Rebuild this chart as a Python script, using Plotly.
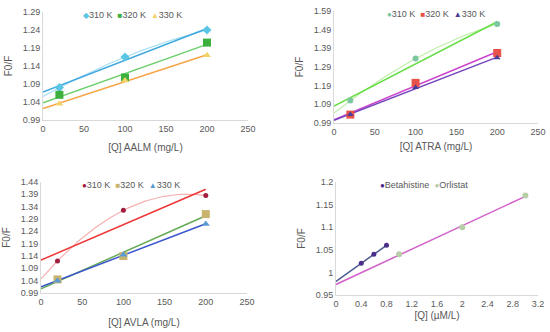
import numpy as np
import plotly.graph_objects as go

# ---------------- data ----------------
conc = [20, 100, 200]
aalm_310 = [1.08, 1.165, 1.24]
aalm_320 = [1.06, 1.108, 1.205]
aalm_330 = [1.035, 1.10, 1.17]

atra_310 = [1.11, 1.335, 1.52]
atra_320 = [1.035, 1.205, 1.365]
atra_330 = [1.035, 1.18, 1.34]

avla_310 = [1.12, 1.325, 1.385]
avla_320 = [1.045, 1.14, 1.31]
avla_330 = [1.04, 1.145, 1.27]

beta_x = [0.4, 0.6, 0.8]
beta_y = [1.02, 1.04, 1.06]
orli_x = [1.0, 2.0, 3.0]
orli_y = [1.04, 1.10, 1.17]

FONT = "Liberation Sans, Arial, sans-serif"
TICKC = "#595959"
W, H = 550, 332

fig = go.Figure()

SYM_CHAR = {"diamond": "\u25c6", "square": "\u25a0", "triangle-up": "\u25b2", "circle": "\u25cf"}

def add_panel(idx, series, legend_xy):
    xa = "x" if idx == 1 else f"x{idx}"
    ya = "y" if idx == 1 else f"y{idx}"
    for (name, xs, ys, mcol, msym, msize, lcol, qcol) in series:
        xs = np.array(xs, float); ys = np.array(ys, float)
        if qcol is not None:
            c2 = np.polyfit(xs, ys, 2)
            xq = np.linspace(0, xs.max(), 80)
            fig.add_trace(go.Scatter(x=xq, y=np.polyval(c2, xq), mode="lines",
                                     line=dict(color=qcol, width=1.2), showlegend=False,
                                     hoverinfo="skip", xaxis=xa, yaxis=ya))
        c1 = np.polyfit(xs, ys, 1)
        xl = np.array([0, xs.max()])
        fig.add_trace(go.Scatter(x=xl, y=np.polyval(c1, xl), mode="lines",
                                 line=dict(color=lcol, width=1.5), showlegend=False,
                                 hoverinfo="skip", xaxis=xa, yaxis=ya))
    parts = []
    for (name, xs, ys, mcol, msym, msize, lcol, qcol) in series:
        fig.add_trace(go.Scatter(x=xs, y=ys, mode="markers", name=name, showlegend=False,
                                 marker=dict(color=mcol, symbol=msym, size=msize),
                                 xaxis=xa, yaxis=ya))
        parts.append(f"<span style='color:{mcol};font-size:8px'>{SYM_CHAR[msym]}</span>{name}")
    lx, ly = legend_xy
    fig.add_annotation(text="  ".join(parts),
                       x=lx / W, y=(H - ly) / H, xref="paper", yref="paper",
                       xanchor="center", yanchor="middle", showarrow=False,
                       font=dict(family=FONT, size=9, color=TICKC))

add_panel(1, [
    ("310 K", conc, aalm_310, "#5BC5E5", "diamond", 7, "#3FA8DE", "#A6DDF2"),
    ("320 K", conc, aalm_320, "#3CB03C", "square", 8, "#6CCF6C", None),
    ("330 K", conc, aalm_330, "#F2D36A", "triangle-up", 7, "#F5A545", None),
], (132, 15))

add_panel(2, [
    ("310 K", conc, atra_310, "#7CC6A2", "circle", 6, "#66DD44", "#C0EEA8"),
    ("320 K", conc, atra_320, "#E8524A", "square", 8, "#CC44CC", None),
    ("330 K", conc, atra_330, "#4B3C96", "triangle-up", 6, "#7444BC", None),
], (436, 14))

add_panel(3, [
    ("310 K", conc, avla_310, "#A21E3E", "circle", 5, "#EE3535", "#F6B0B0"),
    ("320 K", conc, avla_320, "#C9B46E", "square", 8, "#66AA55", None),
    ("330 K", conc, avla_330, "#5B9BD5", "triangle-up", 7, "#3A56CC", None),
], (131, 185))

add_panel(4, [
    ("Betahistine", beta_x, beta_y, "#4B2E8A", "circle", 5, "#4A5A90", None),
    ("Orlistat", orli_x, orli_y, "#B9CDA9", "circle", 6, "#D262CA", None),
], (424, 185))

def dom_x(a, b): return [a / W, b / W]
def dom_y(top, bot): return [(H - bot) / H, (H - top) / H]

axis_common = dict(showgrid=False, zeroline=False, showline=True, linecolor="#D9D9D9",
                   linewidth=1, ticks="", automargin=False,
                   tickfont=dict(family=FONT, size=9, color=TICKC),
                   title_font=dict(family=FONT, size=10, color=TICKC))

layout = dict(
    width=W, height=H, margin=dict(l=0, r=0, t=0, b=0, autoexpand=False),
    paper_bgcolor="white", plot_bgcolor="white", showlegend=False,
    font=dict(family=FONT, size=9, color=TICKC),
)

panels = [
    (1, dom_x(43, 248), dom_y(12, 120), [0, 250], 50, [0.99, 1.29], 0.05, "[Q] AALM (mg/L)", 11),
    (2, dom_x(334, 538), dom_y(11, 123), [0, 250], 50, [0.99, 1.59], 0.1, "[Q] ATRA (mg/L)", 7),
    (3, dom_x(41, 247), dom_y(182, 293), [0, 250], 50, [0.99, 1.44], 0.05, "[Q] AVLA (mg/L)", 13),
    (4, dom_x(336, 538), dom_y(182, 295), [0, 3.2], 0.4, [0.95, 1.2], 0.05, "[Q] (\u00b5M/L)", 4),
]

for idx, xd, yd, xr, xdt, yr, ydt, xt, so in panels:
    sx = "" if idx == 1 else str(idx)
    layout[f"xaxis{sx}"] = dict(axis_common, domain=xd, range=xr, dtick=xdt, tick0=0,
                                anchor=f"y{sx}", title=dict(text=xt, standoff=so))
    layout[f"yaxis{sx}"] = dict(axis_common, domain=yd, range=yr, dtick=ydt, tick0=yr[0],
                                anchor=f"x{sx}", title=dict(text="F0/F", standoff=8))

fig.update_layout(**layout)
fig.write_html("out.html", config={"displayModeBar": False},
               post_script="document.body.style.margin='0';document.body.style.overflow='hidden';")
